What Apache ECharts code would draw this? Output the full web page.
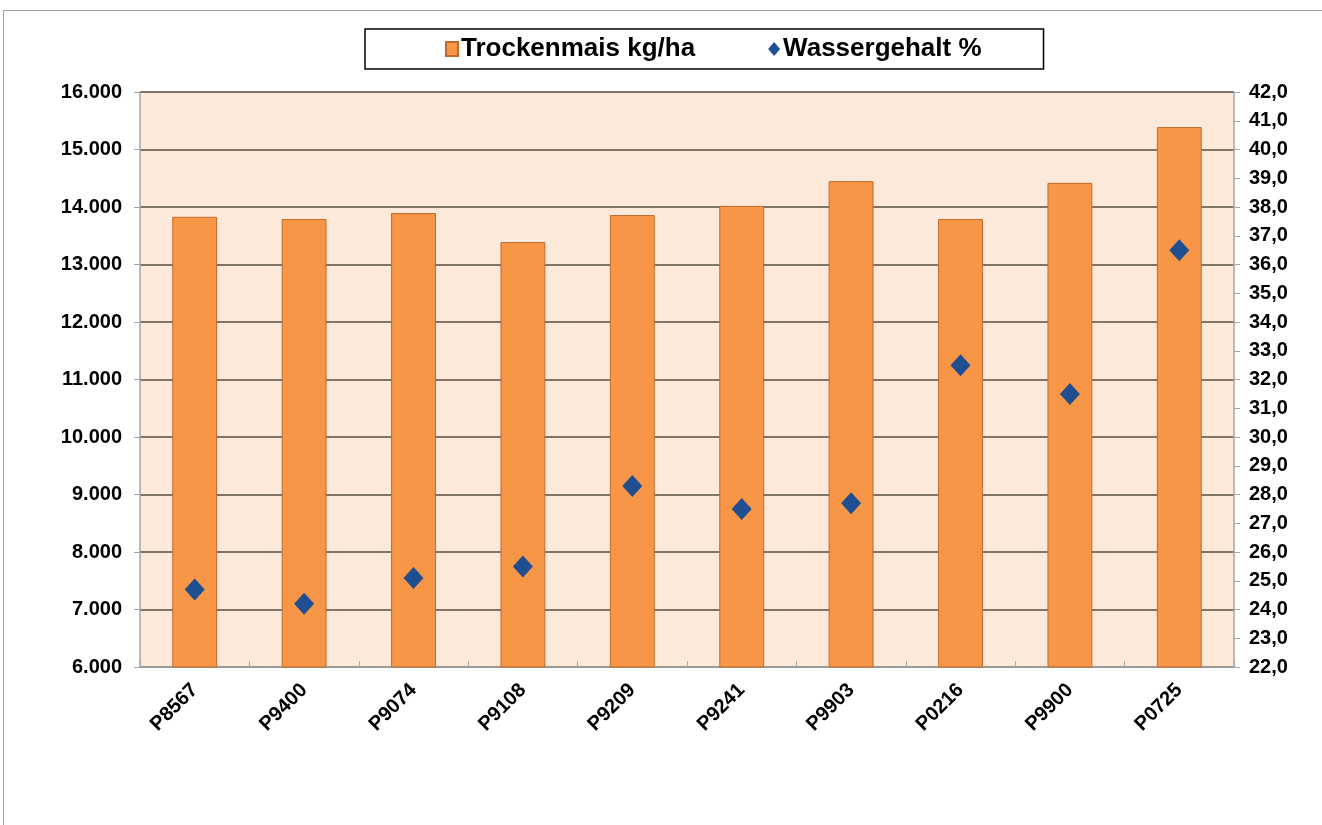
<!DOCTYPE html>
<html>
<head>
<meta charset="utf-8">
<script src="https://cdn.jsdelivr.net/npm/echarts@6/dist/echarts.min.js"></script>
<style>
  html, body { margin: 0; padding: 0; background: #fff; }
  #frame { position: absolute; left: 3px; top: 10px; width: 1340px; height: 840px; border: 1px solid #a0a0a0; }
  #chart { position: absolute; left: 0; top: 0; width: 1322px; height: 825px; }
</style>
</head>
<body>
<div id="frame"></div>
<div id="chart"></div>
<script>
  const categories = ['P8567', 'P9400', 'P9074', 'P9108', 'P9209', 'P9241', 'P9903', 'P0216', 'P9900', 'P0725'];
  const trockenmais = [13830, 13790, 13895, 13390, 13860, 14020, 14450, 13790, 14420, 15390];
  const wassergehalt = [24.7, 24.2, 25.1, 25.5, 28.3, 27.5, 27.7, 32.5, 31.5, 36.5];

  const myChart = echarts.init(document.getElementById('chart'));

  const option = {
    animation: false,
    textStyle: { fontFamily: 'Liberation Sans, Arial, sans-serif' },
    legend: {
      top: 29,
      left: 365,
      data: [
        { name: 'Trockenmais kg/ha', icon: 'rect' },
        { name: 'Wassergehalt %' }
      ],
      borderColor: '#000',
      borderWidth: 1.5,
      padding: [7, 62, 7, 80],
      itemGap: 73,
      itemWidth: 12,
      itemHeight: 14,
      textStyle: { fontSize: 26, fontWeight: 'bold', color: '#000', padding: [0, 0, 0, -2] }
    },
    grid: {
      left: 140,
      right: 88,
      top: 92,
      bottom: 158,
      show: true,
      backgroundColor: '#fde9d9',
      borderWidth: 0
    },
    xAxis: [{
      type: 'category',
      data: categories,
      axisLine: { lineStyle: { color: '#a6a6a6', width: 1.5 } },
      axisTick: { show: true, lineStyle: { color: '#a6a6a6' }, length: 6, inside: true },
      axisLabel: {
        rotate: 45,
        fontSize: 20,
        fontWeight: 'bold',
        color: '#000',
        interval: 0,
        margin: 20
      }
    }],
    yAxis: [
      {
        type: 'value',
        min: 6000,
        max: 16000,
        interval: 1000,
        axisLine: { show: true, lineStyle: { color: '#a6a6a6', width: 1.5 } },
        axisTick: { show: true, length: 6, lineStyle: { color: '#a6a6a6' } },
        axisLabel: {
          fontSize: 20,
          fontWeight: 'bold',
          color: '#000',
          margin: 18,
          formatter: v => String(v).replace(/\B(?=(\d{3})+(?!\d))/g, '.')
        },
        splitLine: { lineStyle: { color: '#7f7466', width: 2 } }
      },
      {
        type: 'value',
        min: 22,
        max: 42,
        interval: 1,
        position: 'right',
        axisLine: { show: true, lineStyle: { color: '#a6a6a6', width: 1.5 } },
        axisTick: { show: true, length: 6, lineStyle: { color: '#a6a6a6' } },
        axisLabel: {
          fontSize: 20,
          fontWeight: 'bold',
          color: '#000',
          margin: 15,
          formatter: v => v.toFixed(1).replace('.', ',')
        },
        splitLine: { show: false }
      }
    ],
    series: [
      {
        name: 'Trockenmais kg/ha',
        type: 'bar',
        data: trockenmais,
        barWidth: '41%',
        itemStyle: { color: '#f79646', borderColor: '#c0692c', borderWidth: 1 },
        z: 2
      },
      {
        name: 'Wassergehalt %',
        type: 'scatter',
        yAxisIndex: 1,
        data: wassergehalt,
        symbol: 'diamond',
        symbolSize: [20, 22],
        itemStyle: { color: '#1f4e91', opacity: 1 },
        z: 3
      }
    ]
  };

  myChart.setOption(option);
</script>
</body>
</html>
